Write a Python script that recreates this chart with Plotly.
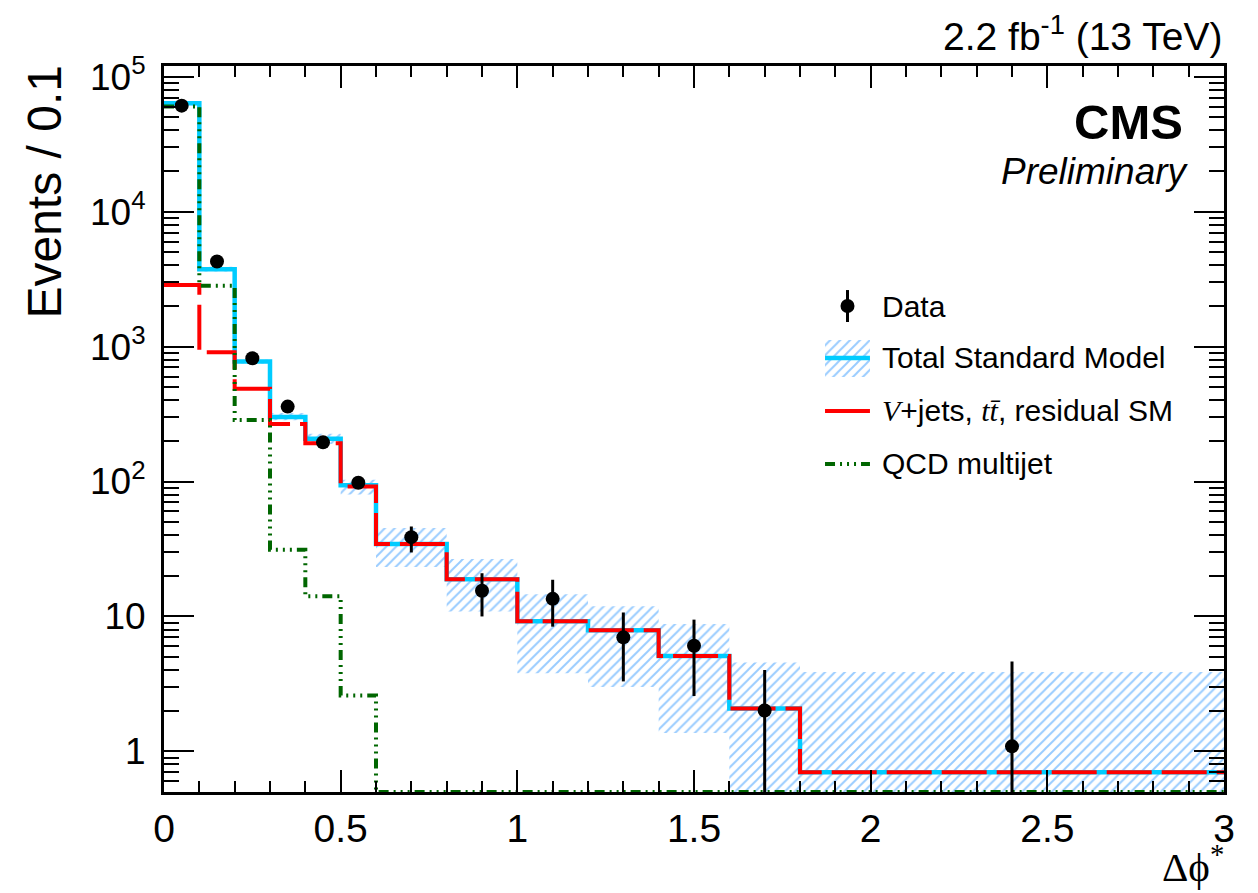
import numpy as np
import plotly.graph_objects as go

# ---------------- data ----------------
bin_edges = [0.0, 0.1, 0.2, 0.3, 0.4, 0.5, 0.6, 0.8, 1.0, 1.2, 1.4, 1.6, 1.8, 3.0]
total_sm = [63500, 3740, 774, 300, 207, 94, 34.4, 18.9, 9.2, 7.9, 5.1, 2.08, 0.70]
band_up = [66000, 3900, 800, 322, 226, 103, 45.2, 26.6, 14.6, 11.9, 8.8, 4.56, 3.87]
band_dn = [61000, 3600, 750, 284, 190, 80, 23.2, 10.9, 3.8, 3.0, 1.37, 0.30, 0.30]
vjets = [2860, 908, 487, 267, 192, 92, 34.4, 18.9, 9.2, 7.9, 5.1, 2.08, 0.70]
qcd = [60000, 2820, 286, 31.2, 14.1, 2.6, 0, 0, 0, 0, 0, 0, 0]

data_x = [0.05, 0.15, 0.25, 0.35, 0.45, 0.55, 0.7, 0.9, 1.1, 1.3, 1.5, 1.7, 2.4]
data_y = [61000, 4270, 820, 359, 195, 98, 38.7, 15.5, 13.5, 7.0, 6.07, 2.01, 1.09]
data_err_hi = [250, 65, 29, 19, 14, 10, 7.7, 5.4, 5.2, 3.7, 3.4, 2.0, 3.55]
data_err_lo = [250, 65, 29, 19, 14, 10, 8.9, 5.5, 5.1, 3.7, 3.5, 1.95, 1.05]

y_min, y_max = 0.5, 1.2e5
x_ticks = [0, 0.5, 1, 1.5, 2, 2.5, 3]
x_ticklabels = ["0", "0.5", "1", "1.5", "2", "2.5", "3"]
y_ticks = [1, 10, 100, 1000, 1e4, 1e5]
y_ticklabels = ["1", "10", "10<sup>2</sup>", "10<sup>3</sup>", "10<sup>4</sup>", "10<sup>5</sup>"]

CYAN = "#00ccff"
RED = "#ff0000"
GREEN = "#006600"
HATCH = "#3399ff"
FONT = "Liberation Sans, Arial, sans-serif"
PATTERN = dict(shape="/", fgcolor=HATCH, bgcolor="rgba(0,0,0,0)", size=7, solidity=0.28)


def step(vals):
    return list(bin_edges), list(vals) + [vals[-1]]


fig = go.Figure()

# uncertainty band polygon (hatched)
bx, by = [], []
for i in range(len(total_sm)):
    bx += [bin_edges[i], bin_edges[i + 1]]
    by += [band_up[i], band_up[i]]
for i in reversed(range(len(total_sm))):
    bx += [bin_edges[i + 1], bin_edges[i]]
    by += [band_dn[i], band_dn[i]]
fig.add_trace(go.Scatter(x=bx, y=by, fill="toself", mode="lines",
                         line=dict(width=0, color=HATCH),
                         fillcolor="rgba(0,0,0,0)", fillpattern=PATTERN,
                         showlegend=False, hoverinfo="skip"))

sx, sy = step(total_sm)
fig.add_trace(go.Scatter(x=sx, y=sy, mode="lines", line=dict(color=CYAN, width=4.5, shape="hv"),
                         showlegend=False))
sx, sy = step(vjets)
fig.add_trace(go.Scatter(x=sx, y=sy, mode="lines",
                         line=dict(color=RED, width=4, shape="hv", dash="45px,10px"),
                         showlegend=False))
qcd_disp = [v if v > 0 else y_min for v in qcd]
sx, sy = step(qcd_disp)
fig.add_trace(go.Scatter(x=sx, y=sy, mode="lines",
                         line=dict(color=GREEN, width=4, shape="hv",
                                   dash="10px,5px,2px,5px,2px,5px,2px,5px"),
                         showlegend=False))

fig.add_trace(go.Scatter(x=data_x, y=data_y, mode="markers",
                         marker=dict(color="black", size=14),
                         error_y=dict(type="data", symmetric=False, array=data_err_hi,
                                      arrayminus=data_err_lo, color="black", thickness=3, width=0),
                         showlegend=False))

# ---------------- legend (drawn in an invisible overlay frame) ----------------
lx0, lx1 = 0.6236, 0.666
lxc = (lx0 + lx1) / 2
rows = [0.6694, 0.5978, 0.5248, 0.4518]
fig.add_trace(go.Scatter(x=[lxc], y=[rows[0]], xaxis="x2", yaxis="y2", mode="markers",
                         marker=dict(color="black", size=14),
                         error_y=dict(type="constant", value=0.022, color="black", thickness=3, width=0),
                         showlegend=False, hoverinfo="skip"))
fig.add_trace(go.Scatter(x=[lx0, lx1, lx1, lx0, lx0], y=[0.6226, 0.6226, 0.5716, 0.5716, 0.6226],
                         xaxis="x2", yaxis="y2", mode="lines", fill="toself",
                         line=dict(width=0, color=HATCH), fillcolor="rgba(0,0,0,0)",
                         fillpattern=PATTERN, showlegend=False, hoverinfo="skip"))
fig.add_trace(go.Scatter(x=[lx0, lx1], y=[rows[1], rows[1]], xaxis="x2", yaxis="y2", mode="lines",
                         line=dict(color=CYAN, width=4.5), showlegend=False, hoverinfo="skip"))
fig.add_trace(go.Scatter(x=[lx0, lx1], y=[rows[2], rows[2]], xaxis="x2", yaxis="y2", mode="lines",
                         line=dict(color=RED, width=4), showlegend=False, hoverinfo="skip"))
fig.add_trace(go.Scatter(x=[lx0, lx1], y=[rows[3], rows[3]], xaxis="x2", yaxis="y2", mode="lines",
                         line=dict(color=GREEN, width=4, dash="10px,5px,2px,5px,2px,5px,2px,5px"),
                         showlegend=False, hoverinfo="skip"))

legend_texts = ["Data", "Total Standard Model",
                "<span style=\"font-family:'Liberation Serif'\"><i>V</i></span>+jets, "
                "<span style=\"font-family:'Liberation Serif'\"><i>tt\u0304</i></span>, residual SM",
                "QCD multijet"]
annotations = []
for t, yy in zip(legend_texts, rows):
    annotations.append(dict(text=t, xref="paper", yref="paper", x=0.6755, y=yy,
                            xanchor="left", yanchor="middle", showarrow=False,
                            font=dict(family=FONT, size=30, color="black")))

annotations += [
    dict(text="2.2 fb<sup>-1</sup> (13 TeV)", xref="paper", yref="paper", x=1.0, y=1.008,
         xanchor="right", yanchor="bottom", showarrow=False,
         font=dict(family=FONT, size=39, color="black")),
    dict(text="<b>CMS</b>", xref="paper", yref="paper", x=0.963, y=0.923,
         xanchor="right", yanchor="middle", showarrow=False,
         font=dict(family=FONT, size=49, color="black")),
    dict(text="<i>Preliminary</i>", xref="paper", yref="paper", x=0.969, y=0.854,
         xanchor="right", yanchor="middle", showarrow=False,
         font=dict(family=FONT, size=37, color="black")),
    dict(text="Events / 0.1", xref="paper", yref="paper", x=-0.113, y=1.003,
         xanchor="center", yanchor="top", textangle=-90, showarrow=False,
         font=dict(family=FONT, size=48, color="black")),
    dict(text="\u0394\u03d5<sup>*</sup>", xref="paper", yref="paper", x=1.002, y=-0.1375,
         xanchor="right", yanchor="bottom", showarrow=False,
         font=dict(family="Liberation Serif, Times New Roman, serif", size=41, color="black")),
]

minor_y = [m * 10 ** k for k in range(-1, 6) for m in range(2, 10) if y_min <= m * 10 ** k <= y_max]
minor_x = [round(0.1 * i, 1) for i in range(31)]

fig.update_layout(
    width=1258, height=893,
    margin=dict(l=164, r=34, t=66, b=101),
    paper_bgcolor="white", plot_bgcolor="white",
    showlegend=False,
    annotations=annotations,
    xaxis=dict(range=[0, 3], tickvals=x_ticks, ticktext=x_ticklabels,
               ticks="inside", ticklen=22, tickwidth=2, tickcolor="black",
               showline=True, linecolor="black", linewidth=3, mirror="allticks",
               showgrid=False, zeroline=False,
               tickfont=dict(family=FONT, size=39, color="black"),
               ticklabelstandoff=0,
               minor=dict(tickvals=minor_x, ticks="inside", ticklen=11, tickwidth=2,
                          tickcolor="black", showgrid=False)),
    yaxis=dict(type="log", range=[np.log10(y_min), np.log10(y_max)],
               tickvals=y_ticks, ticktext=y_ticklabels,
               ticks="inside", ticklen=30, tickwidth=2, tickcolor="black",
               showline=True, linecolor="black", linewidth=3, mirror="allticks",
               showgrid=False, zeroline=False,
               tickfont=dict(family=FONT, size=37, color="black"),
               ticklabelstandoff=8,
               minor=dict(tickvals=minor_y, ticks="inside", ticklen=15, tickwidth=2,
                          tickcolor="black", showgrid=False)),
    xaxis2=dict(overlaying="x", range=[0, 1], visible=False, fixedrange=True),
    yaxis2=dict(overlaying="y", range=[0, 1], visible=False, fixedrange=True),
)

fig.write_html("out.html")
